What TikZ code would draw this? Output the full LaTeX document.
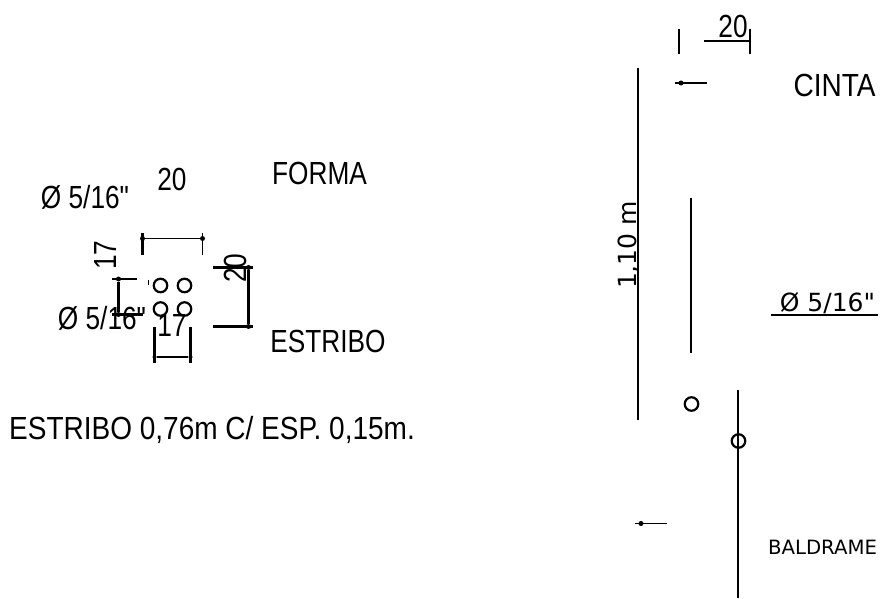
\documentclass[tikz,border=0pt]{standalone}
\usepackage{fontspec}
\newfontfamily\nfont[FakeStretch=0.82]{Liberation Sans}
\newfontfamily\wfont[FakeStretch=0.875]{Liberation Sans}
\newfontfamily\vfont{DejaVu Sans}
\begin{document}
\begin{tikzpicture}[x=1pt,y=-1pt]

			\tikzstyle{label}=[inner sep=0pt,font=\nfont\fontsize{32}{32}\selectfont]
			\tikzstyle{wlabel}=[inner sep=0pt,font=\wfont\fontsize{32}{32}\selectfont]
			\tikzstyle{vlabel}=[inner sep=0pt,font=\vfont\fontsize{25}{25}\selectfont]
			\tikzstyle{bar}=[circle,draw=black,line width=2.2pt,
				minimum size=13.5pt,inner sep=0pt]
			\tikzstyle{dot}=[circle,fill=black,
				minimum size=5pt,inner sep=0pt]
			\tikzstyle{thin}=[black,line width=1.5pt]
			\tikzstyle{thick}=[black,line width=2.2pt]

			\useasboundingbox (0,0) rectangle (880,599);

			\node[label] (t20) at (172,179) {20};
			\node[label] (forma) at (319.5,173) {FORMA};
			\node[label] (bitola1) at (85,197) {Ø 5/16"};
			\node[label,rotate=90] (t17) at (105,255) {17};
			\node[label,rotate=90] (r20) at (235,268) {20};
			\node[label] (bitola2) at (102,318) {Ø 5/16"};
			\node[label] (b17) at (172,325) {17};
			\node[label] (estribo) at (328,341) {ESTRIBO};
			\node[wlabel] (nota) at (212,430) {ESTRIBO 0,76m C/ ESP. 0,15m.};

			\node[bar] (c11) at (160.5,285.5) {};
			\node[bar] (c12) at (184.5,285.5) {};
			\node[bar] (c21) at (160.5,309) {};
			\node[bar] (c22) at (184.5,309) {};

			% cotas da secao
			\node[dot] (ta) at (142.5,238.5) {};
			\node[dot] (tb) at (202.5,238.5) {};
			\draw[thin] (ta) -- (tb);
			\draw[thick] (142.5,233) -- (142.5,255);
			\draw[thin] (202.5,233) -- (202.5,255);

			\node[dot] (ra) at (248.5,267.5) {};
			\node[dot] (rb) at (248.5,326.5) {};
			\draw[thick] (ra) -- (rb);
			\draw[thick] (213,267.5) -- (253,267.5);
			\draw[thick] (213,326.5) -- (253,326.5);

			\node[dot] (la) at (118.5,279) {};
			\node[dot] (lb) at (118.5,314.5) {};
			\draw[thick] (la) -- (lb);
			\draw[thick] (112,279) -- (137,279);
			\draw[thick] (112,314.5) -- (143,314.5);
			\draw[thin] (148.5,279.5) -- (148.5,285);

			\node[dot,minimum size=4pt] (ba) at (154.5,357) {};
			\node[dot,minimum size=4pt] (bb) at (190.5,357) {};
			\draw[thick] (ba) -- (bb);
			\draw[thick] (154.5,327) -- (154.5,363);
			\draw[thick] (190.5,327) -- (190.5,363);

			% vista lateral
			\node[label] (c20) at (733,26) {20};
			\node[wlabel] (cinta) at (834.5,85) {CINTA};
			\node[vlabel,rotate=90] (alt) at (628.5,245) {1,10 m};
			\node[vlabel] (bitola3) at (827.5,303) {Ø 5/16"};
			\node[inner sep=0pt,font=\vfont\fontsize{19.7}{19.7}\selectfont] (baldrame) at (822.5,547) {BALDRAME};

			\coordinate (cl) at (704,41);
			\coordinate (cr) at (750,41);
			\draw[thick] (cl) -- (cr);
			\draw[thin] (679,29) -- (679,54);
			\draw[thin] (750,29) -- (750,54);

			\coordinate (ha) at (638,68);
			\coordinate (hb) at (638,420);
			\draw[thick] (ha) -- (hb);

			\node[dot] (d1) at (681,83) {};
			\coordinate (d1e) at (707,83);
			\draw[thin] (675,83) -- (d1e);

			\coordinate (ia) at (691,198);
			\coordinate (ib) at (691,353);
			\draw[thick] (ia) -- (ib);

			\coordinate (ua) at (771,315);
			\coordinate (ub) at (878,315);
			\draw[thick] (ua) -- (ub);

			\node[bar] (c31) at (691.5,404) {};
			\node[bar] (c32) at (738.5,441) {};
			\coordinate (va) at (738,390);
			\coordinate (vb) at (738,598);
			\draw[thick] (va) -- (vb);

			\node[dot] (d2) at (641,523.5) {};
			\coordinate (d2e) at (667,523.5);
			\draw[thin] (635,523.5) -- (d2e);

\end{tikzpicture}
\end{document}
